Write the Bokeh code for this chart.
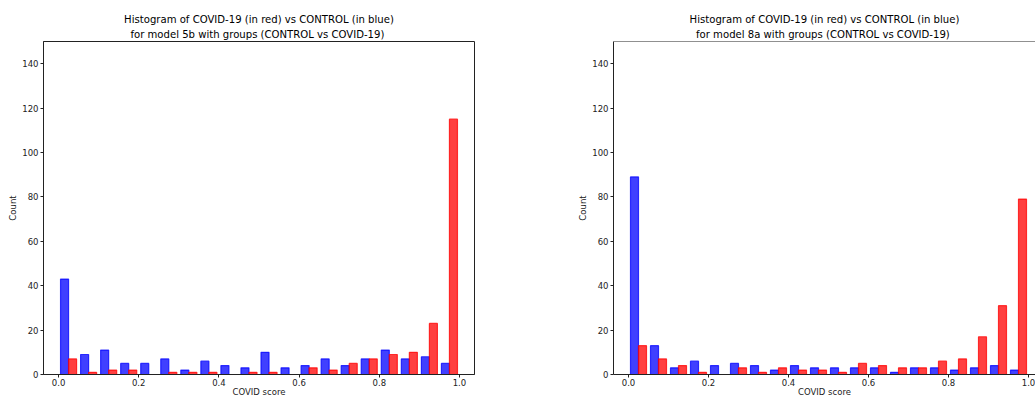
from bokeh.plotting import figure
from bokeh.layouts import row
from bokeh.models import Range1d, FixedTicker, Span, NumeralTickFormatter, ColumnDataSource, Title
from bokeh.transform import dodge
from bokeh.embed import file_html
from bokeh.resources import INLINE

FONT = "DejaVu Sans"

bin_centers = [0.025, 0.075, 0.125, 0.175, 0.225, 0.275, 0.325, 0.375, 0.425, 0.475,
               0.525, 0.575, 0.625, 0.675, 0.725, 0.775, 0.825, 0.875, 0.925, 0.975]
control_5b = [43, 9, 11, 5, 5, 7, 2, 6, 4, 3, 10, 3, 4, 7, 4, 7, 11, 7, 8, 5]
covid_5b = [7, 1, 2, 2, 0, 1, 1, 1, 0, 1, 1, 0, 3, 2, 5, 7, 9, 10, 23, 115]
control_8a = [89, 13, 3, 6, 4, 5, 4, 2, 4, 3, 3, 3, 3, 1, 3, 3, 2, 3, 4, 2]
covid_8a = [13, 7, 4, 1, 0, 3, 1, 3, 2, 2, 1, 5, 4, 3, 3, 6, 7, 17, 31, 79]
x_ticks = [0.0, 0.2, 0.4, 0.6, 0.8, 1.0]
y_ticks = [0, 20, 40, 60, 80, 100, 120, 140]
title_line1 = "Histogram of COVID-19 (in red) vs CONTROL (in blue)"
title_5b_line2 = " for model 5b with groups (CONTROL vs COVID-19)"
title_8a_line2 = " for model 8a with groups (CONTROL vs COVID-19)"

SPINE = "#222222"


def style_title(t, standoff):
    t.align = "center"
    t.text_font = FONT
    t.text_font_size = "10.1px"
    t.text_font_style = "normal"
    t.text_color = "#000000"
    t.standoff = standoff


def make(line2, control, covid, width, bl, br, x_end, full_outline):
    p = figure(width=width, height=399,
               x_range=Range1d(-0.0375, x_end), y_range=Range1d(0, 150),
               output_backend="svg", toolbar_location=None,
               min_border_left=bl, min_border_right=br,
               min_border_top=41, min_border_bottom=25)
    p.title.text = title_line1
    style_title(p.title, 0)
    t2 = Title(text=line2)
    style_title(t2, 4)
    p.add_layout(t2, "above")
    p.background_fill_color = "white"
    p.border_fill_color = "white"
    p.xgrid.visible = False
    p.ygrid.visible = False
    if full_outline:
        p.outline_line_color = SPINE
        p.outline_line_width = 1
    else:
        p.outline_line_color = None
        p.add_layout(Span(location=150, dimension="width", line_color=SPINE, line_width=1))

    src = ColumnDataSource(dict(center=bin_centers, control=control, covid=covid))
    p.vbar(x=dodge("center", -0.01, range=p.x_range), top="control", bottom=0, width=0.02,
           source=src, fill_color="blue", fill_alpha=0.75,
           line_color="blue", line_alpha=0.75, line_width=1.2)
    p.vbar(x=dodge("center", 0.01, range=p.x_range), top="covid", bottom=0, width=0.02,
           source=src, fill_color="red", fill_alpha=0.75,
           line_color="red", line_alpha=0.75, line_width=1.2)

    p.xaxis.ticker = FixedTicker(ticks=x_ticks)
    p.xaxis.formatter = NumeralTickFormatter(format="0.0")
    p.yaxis.ticker = FixedTicker(ticks=y_ticks)
    p.xaxis.axis_label = "COVID score"
    p.yaxis.axis_label = "Count"
    for ax in (p.xaxis, p.yaxis):
        ax.axis_line_color = SPINE
        ax.axis_line_width = 1
        ax.major_tick_line_color = SPINE
        ax.major_tick_out = 3
        ax.major_tick_in = 0
        ax.minor_tick_out = 0
        ax.minor_tick_in = 0
        ax.major_label_text_font = FONT
        ax.major_label_text_font_size = "8.5px"
        ax.major_label_text_color = "#222222"
        ax.axis_label_text_font = FONT
        ax.axis_label_text_font_size = "8.5px"
        ax.axis_label_text_font_style = "normal"
        ax.axis_label_text_color = "#222222"
    p.yaxis.major_label_standoff = 2
    p.yaxis.axis_label_standoff = 1
    p.xaxis.major_label_standoff = 1
    p.xaxis.axis_label_standoff = -2
    return p


p1 = make(title_5b_line2, control_5b, covid_5b, 570, 43, 96, 1.0375, True)
p2 = make(title_8a_line2, control_8a, covid_8a, 465, 43, 0, 1.0175, False)

layout = row(p1, p2)
open("out.html", "w").write(file_html(layout, INLINE))
